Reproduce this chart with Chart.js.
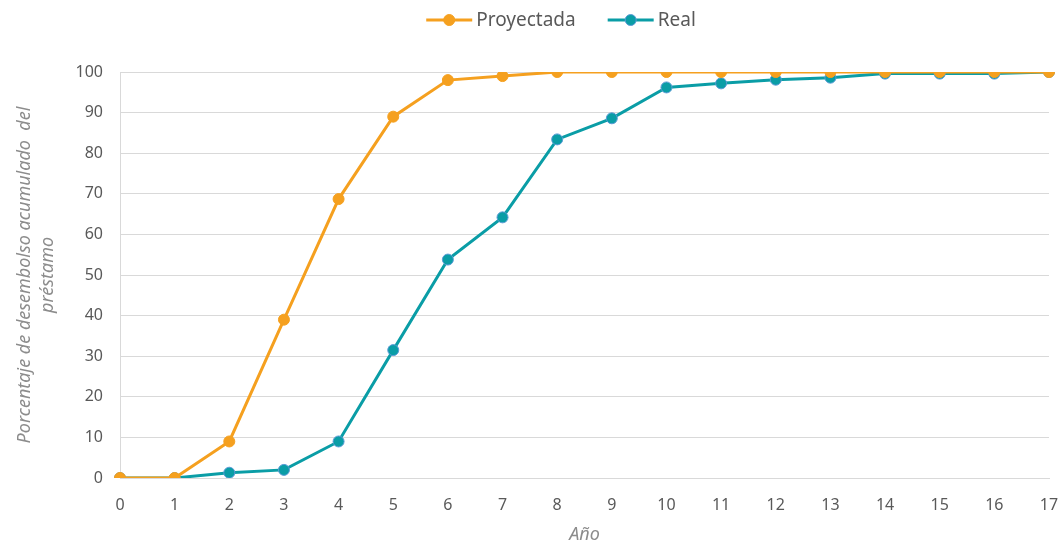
<!DOCTYPE html>
<html lang="es">
<head>
<meta charset="utf-8">
<script src="https://cdn.jsdelivr.net/npm/chart.js@4"></script>
<style>
  html, body { margin: 0; padding: 0; background: #ffffff; }
  #wrap { width: 1059px; height: 542px; position: relative; }
</style>
</head>
<body>
<div id="wrap"><canvas id="c" width="1059" height="542"></canvas></div>
<script>
// Years since loan approval
const years = [0, 1, 2, 3, 4, 5, 6, 7, 8, 9, 10, 11, 12, 13, 14, 15, 16, 17];
// Cumulative disbursement, % of loan
const proyectada = [0, 0, 9, 39, 68.7, 89, 98, 99, 100, 100, 100, 100, 100, 100, 100, 100, 100, 100];
const real = [0, 0, 1.3, 2, 9, 31.5, 53.8, 64.2, 83.4, 88.6, 96.2, 97.2, 98.1, 98.6, 99.6, 99.6, 99.6, 100];
const yTicks = [0, 10, 20, 30, 40, 50, 60, 70, 80, 90, 100];

const ORANGE = '#F5A01F';
const TEAL = '#0A9DA6';
const TEAL_EDGE = '#5B9BD5';
const FONT = '"Noto Sans", "Open Sans", sans-serif';

// Legend drawn as line + marker above the plot
const lineLegend = {
  id: 'lineLegend',
  afterDraw(chart) {
    const ctx = chart.ctx;
    const items = chart.data.datasets.map(d => ({ label: d.label, color: d.borderColor, fill: d.pointBackgroundColor, edge: d.pointBorderColor }));
    ctx.save();
    ctx.font = '19px ' + FONT;
    const sw = 46, gap = 4, between = 32;
    const widths = items.map(it => sw + gap + ctx.measureText(it.label).width);
    const total = widths.reduce((a, b) => a + b, 0) + between * (items.length - 1);
    let x = 561 - total / 2;
    const y = 20;
    items.forEach((it, i) => {
      ctx.strokeStyle = it.color;
      ctx.lineWidth = 3;
      ctx.beginPath(); ctx.moveTo(x, y); ctx.lineTo(x + sw, y); ctx.stroke();
      ctx.beginPath(); ctx.arc(x + sw / 2, y, 5.5, 0, Math.PI * 2);
      ctx.fillStyle = it.fill; ctx.fill();
      ctx.lineWidth = 1; ctx.strokeStyle = it.edge; ctx.stroke();
      ctx.fillStyle = '#595959';
      ctx.textBaseline = 'middle';
      ctx.textAlign = 'left';
      ctx.fillText(it.label, x + sw + gap, y + 1);
      x += widths[i] + between;
    });
    ctx.restore();
  }
};

new Chart(document.getElementById('c'), {
  type: 'line',
  data: {
    labels: years,
    datasets: [
      {
        label: 'Proyectada',
        data: proyectada,
        borderColor: ORANGE,
        backgroundColor: ORANGE,
        pointBackgroundColor: ORANGE,
        pointBorderColor: ORANGE,
        borderWidth: 3,
        pointRadius: 5.5,
        pointBorderWidth: 1,
        tension: 0
      },
      {
        label: 'Real',
        data: real,
        borderColor: TEAL,
        backgroundColor: TEAL,
        pointBackgroundColor: TEAL,
        pointBorderColor: TEAL_EDGE,
        borderWidth: 3,
        pointRadius: 5.5,
        pointBorderWidth: 1,
        tension: 0
      }
    ]
  },
  options: {
    responsive: false,
    animation: false,
    layout: { padding: { top: 72, right: 10, left: 14, bottom: -4 } },
    plugins: {
      legend: { display: false },
      tooltip: { enabled: false }
    },
    scales: {
      x: {
        type: 'category',
        offset: false,
        grid: { display: false, drawTicks: false },
        border: { display: true, color: '#d9d9d9', width: 1 },
        ticks: { color: '#595959', font: { family: FONT, size: 16 }, padding: 18, maxRotation: 0, autoSkip: false },
        title: { display: true, text: 'Año', color: '#8c8c8c', font: { family: FONT, size: 18, style: 'italic' }, padding: { top: 7, bottom: 0 } },
        afterFit(s) { s.height = 68; s.paddingRight = 0; s.paddingLeft = 0; }
      },
      y: {
        min: 0,
        max: 100,
        afterBuildTicks(s) { s.ticks = yTicks.map(v => ({ value: v })); },
        grid: { color: '#d9d9d9', lineWidth: 1, drawTicks: false },
        border: { display: true, color: '#d9d9d9', width: 1 },
        ticks: { color: '#595959', font: { family: FONT, size: 16 }, padding: 17 },
        title: { display: true, text: ['Porcentaje de desembolso acumulado  del', 'préstamo'], color: '#8c8c8c', font: { family: FONT, size: 18, style: 'italic', lineHeight: 1.25 }, padding: { top: 0, bottom: 4 } },
        afterFit(s) { s.width = 106; s.paddingTop = 0; s.paddingBottom = 0; }
      }
    }
  },
  plugins: [lineLegend]
});
</script>
</body>
</html>
